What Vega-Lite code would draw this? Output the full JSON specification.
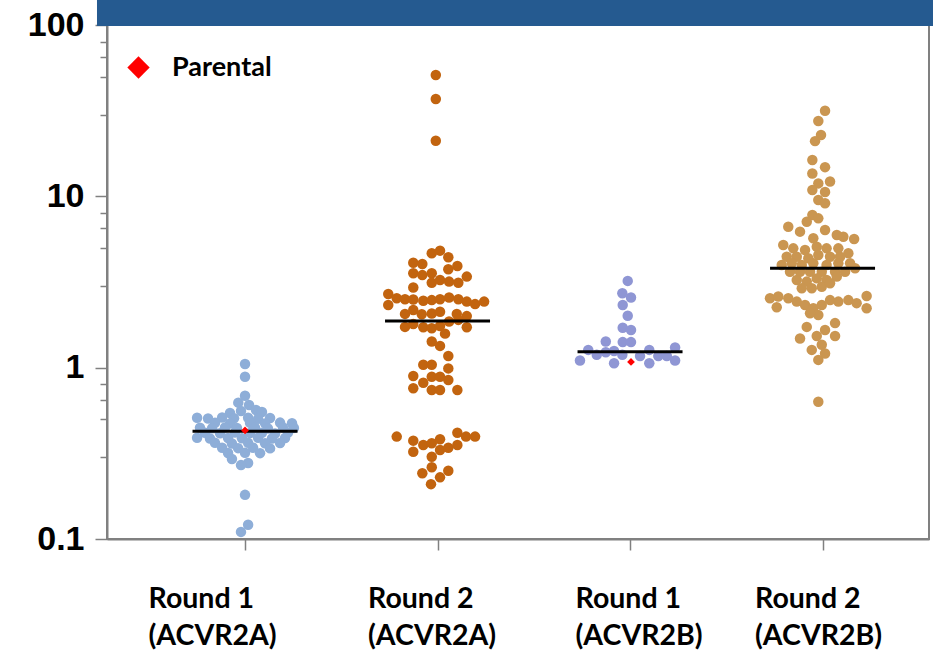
{
  "$schema": "https://vega.github.io/schema/vega-lite/v6.json",
  "width": 822,
  "height": 514,
  "autosize": "none",
  "padding": {"left": 107, "top": 25, "right": 4, "bottom": 122},
  "background": "white",
  "config": {
    "view": {"stroke": "#808080", "strokeWidth": 2},
    "axis": {"grid": false}
  },
  "datasets": {
    "pts": [
      {"g":"R1A","pos":1.0,"v":1.05},{"g":"R1A","pos":1.0,"v":0.885},{"g":"R1A","pos":1.0,"v":0.685},
      {"g":"R1A","pos":0.965,"v":0.625},{"g":"R1A","pos":1.021,"v":0.605},{"g":"R1A","pos":0.922,"v":0.544},
      {"g":"R1A","pos":0.979,"v":0.558},{"g":"R1A","pos":1.057,"v":0.566},{"g":"R1A","pos":1.088,"v":0.551},
      {"g":"R1A","pos":0.751,"v":0.51},{"g":"R1A","pos":0.808,"v":0.505},{"g":"R1A","pos":0.881,"v":0.512},{"g":"R1A","pos":0.943,"v":0.506},{"g":"R1A","pos":1.016,"v":0.51},{"g":"R1A","pos":1.068,"v":0.503},{"g":"R1A","pos":1.13,"v":0.508},
      {"g":"R1A","pos":0.844,"v":0.477},{"g":"R1A","pos":0.922,"v":0.472},{"g":"R1A","pos":1.026,"v":0.476},{"g":"R1A","pos":1.104,"v":0.473},{"g":"R1A","pos":1.182,"v":0.478},{"g":"R1A","pos":1.244,"v":0.474},
      {"g":"R1A","pos":0.766,"v":0.446},{"g":"R1A","pos":0.829,"v":0.443},{"g":"R1A","pos":0.896,"v":0.447},{"g":"R1A","pos":0.958,"v":0.444},{"g":"R1A","pos":1.052,"v":0.446},{"g":"R1A","pos":1.119,"v":0.442},{"g":"R1A","pos":1.197,"v":0.447},{"g":"R1A","pos":1.254,"v":0.445},
      {"g":"R1A","pos":0.792,"v":0.417},{"g":"R1A","pos":0.87,"v":0.414},{"g":"R1A","pos":0.948,"v":0.418},{"g":"R1A","pos":1.026,"v":0.415},{"g":"R1A","pos":1.088,"v":0.417},{"g":"R1A","pos":1.156,"v":0.413},{"g":"R1A","pos":1.223,"v":0.418},
      {"g":"R1A","pos":0.751,"v":0.39},{"g":"R1A","pos":0.818,"v":0.386},{"g":"R1A","pos":0.912,"v":0.389},{"g":"R1A","pos":0.984,"v":0.387},{"g":"R1A","pos":1.068,"v":0.39},{"g":"R1A","pos":1.14,"v":0.386},{"g":"R1A","pos":1.208,"v":0.389},
      {"g":"R1A","pos":0.844,"v":0.364},{"g":"R1A","pos":0.932,"v":0.361},{"g":"R1A","pos":1.016,"v":0.364},{"g":"R1A","pos":1.104,"v":0.362},{"g":"R1A","pos":1.182,"v":0.363},
      {"g":"R1A","pos":0.881,"v":0.341},{"g":"R1A","pos":0.964,"v":0.339},{"g":"R1A","pos":1.042,"v":0.341},{"g":"R1A","pos":1.13,"v":0.338},
      {"g":"R1A","pos":0.912,"v":0.318},{"g":"R1A","pos":1.0,"v":0.319},{"g":"R1A","pos":1.078,"v":0.317},
      {"g":"R1A","pos":0.932,"v":0.293},{"g":"R1A","pos":1.016,"v":0.278},{"g":"R1A","pos":0.979,"v":0.27},
      {"g":"R1A","pos":1.0,"v":0.181},{"g":"R1A","pos":1.016,"v":0.121},{"g":"R1A","pos":0.979,"v":0.11},

      {"g":"R2A","pos":1.991,"v":51.1},{"g":"R2A","pos":1.991,"v":37.0},{"g":"R2A","pos":1.991,"v":21.1},
      {"g":"R2A","pos":1.97,"v":4.65},{"g":"R2A","pos":2.013,"v":4.82},{"g":"R2A","pos":2.056,"v":4.41},{"g":"R2A","pos":1.874,"v":4.1},
      {"g":"R2A","pos":1.921,"v":4.03},{"g":"R2A","pos":2.103,"v":3.92},{"g":"R2A","pos":1.874,"v":3.56},{"g":"R2A","pos":1.921,"v":3.47},
      {"g":"R2A","pos":1.97,"v":3.56},{"g":"R2A","pos":2.056,"v":3.75},{"g":"R2A","pos":1.97,"v":3.13},{"g":"R2A","pos":2.013,"v":3.25},
      {"g":"R2A","pos":2.06,"v":3.18},{"g":"R2A","pos":2.108,"v":3.13},{"g":"R2A","pos":2.152,"v":3.4},{"g":"R2A","pos":1.874,"v":2.94},
      {"g":"R2A","pos":1.744,"v":2.69},{"g":"R2A","pos":1.744,"v":2.32},{"g":"R2A","pos":1.788,"v":2.54},{"g":"R2A","pos":1.831,"v":2.51},
      {"g":"R2A","pos":1.874,"v":2.5},{"g":"R2A","pos":1.926,"v":2.46},{"g":"R2A","pos":1.97,"v":2.48},{"g":"R2A","pos":2.013,"v":2.51},
      {"g":"R2A","pos":2.06,"v":2.57},{"g":"R2A","pos":2.108,"v":2.51},{"g":"R2A","pos":2.152,"v":2.43},{"g":"R2A","pos":2.195,"v":2.35},
      {"g":"R2A","pos":2.242,"v":2.43},
      {"g":"R2A","pos":1.831,"v":2.06},{"g":"R2A","pos":1.874,"v":2.17},{"g":"R2A","pos":1.918,"v":2.05},{"g":"R2A","pos":1.97,"v":2.07},
      {"g":"R2A","pos":2.013,"v":2.12},{"g":"R2A","pos":2.1,"v":2.06},{"g":"R2A","pos":2.152,"v":2.0},
      {"g":"R2A","pos":1.831,"v":1.73},{"g":"R2A","pos":1.874,"v":1.8},{"g":"R2A","pos":1.926,"v":1.72},{"g":"R2A","pos":1.97,"v":1.7},
      {"g":"R2A","pos":2.013,"v":1.75},{"g":"R2A","pos":2.06,"v":1.86},{"g":"R2A","pos":2.108,"v":1.9},{"g":"R2A","pos":2.152,"v":1.72},
      {"g":"R2A","pos":1.97,"v":1.42},{"g":"R2A","pos":2.013,"v":1.34},{"g":"R2A","pos":2.039,"v":1.58},
      {"g":"R2A","pos":2.056,"v":1.17},{"g":"R2A","pos":1.926,"v":1.04},{"g":"R2A","pos":1.97,"v":1.04},{"g":"R2A","pos":2.056,"v":0.99},
      {"g":"R2A","pos":1.874,"v":0.894},{"g":"R2A","pos":1.97,"v":0.886},{"g":"R2A","pos":2.013,"v":0.886},{"g":"R2A","pos":1.926,"v":0.817},
      {"g":"R2A","pos":2.056,"v":0.847},{"g":"R2A","pos":1.874,"v":0.758},{"g":"R2A","pos":1.97,"v":0.741},{"g":"R2A","pos":2.013,"v":0.741},
      {"g":"R2A","pos":2.103,"v":0.741},
      {"g":"R2A","pos":1.788,"v":0.396},{"g":"R2A","pos":1.874,"v":0.375},{"g":"R2A","pos":1.926,"v":0.354},{"g":"R2A","pos":1.97,"v":0.362},
      {"g":"R2A","pos":2.013,"v":0.382},{"g":"R2A","pos":2.103,"v":0.417},{"g":"R2A","pos":2.148,"v":0.396},{"g":"R2A","pos":2.195,"v":0.396},
      {"g":"R2A","pos":1.874,"v":0.323},{"g":"R2A","pos":2.013,"v":0.331},{"g":"R2A","pos":2.056,"v":0.341},{"g":"R2A","pos":2.103,"v":0.354},
      {"g":"R2A","pos":1.97,"v":0.302},{"g":"R2A","pos":1.97,"v":0.262},{"g":"R2A","pos":1.921,"v":0.242},{"g":"R2A","pos":2.056,"v":0.25},
      {"g":"R2A","pos":2.013,"v":0.229},{"g":"R2A","pos":1.966,"v":0.209},

      {"g":"R1B","pos":2.988,"v":3.21},{"g":"R1B","pos":2.96,"v":2.72},{"g":"R1B","pos":3.005,"v":2.57},{"g":"R1B","pos":2.962,"v":2.32},
      {"g":"R1B","pos":2.988,"v":2.01},{"g":"R1B","pos":2.962,"v":1.71},{"g":"R1B","pos":3.005,"v":1.66},{"g":"R1B","pos":2.874,"v":1.42},
      {"g":"R1B","pos":2.962,"v":1.41},{"g":"R1B","pos":3.005,"v":1.41},{"g":"R1B","pos":2.783,"v":1.27},{"g":"R1B","pos":2.827,"v":1.19},
      {"g":"R1B","pos":2.874,"v":1.23},{"g":"R1B","pos":2.917,"v":1.25},{"g":"R1B","pos":2.96,"v":1.19},{"g":"R1B","pos":3.052,"v":1.17},
      {"g":"R1B","pos":3.1,"v":1.27},{"g":"R1B","pos":3.147,"v":1.17},{"g":"R1B","pos":3.191,"v":1.17},{"g":"R1B","pos":3.234,"v":1.31},
      {"g":"R1B","pos":2.74,"v":1.1},{"g":"R1B","pos":2.917,"v":1.06},{"g":"R1B","pos":3.1,"v":1.06},{"g":"R1B","pos":3.234,"v":1.1},

      {"g":"R2B","pos":4.013,"v":31.6},{"g":"R2B","pos":3.978,"v":27.5},{"g":"R2B","pos":3.992,"v":22.8},{"g":"R2B","pos":3.961,"v":21.0},
      {"g":"R2B","pos":3.947,"v":16.3},{"g":"R2B","pos":4.013,"v":14.8},{"g":"R2B","pos":3.947,"v":13.6},{"g":"R2B","pos":3.978,"v":11.9},
      {"g":"R2B","pos":4.039,"v":12.2},{"g":"R2B","pos":3.947,"v":10.9},{"g":"R2B","pos":4.013,"v":10.6},{"g":"R2B","pos":3.978,"v":9.52},
      {"g":"R2B","pos":4.013,"v":9.11},{"g":"R2B","pos":3.947,"v":7.78},{"g":"R2B","pos":3.918,"v":7.11},{"g":"R2B","pos":3.978,"v":7.44},
      {"g":"R2B","pos":3.822,"v":6.65},{"g":"R2B","pos":4.013,"v":6.36},{"g":"R2B","pos":3.883,"v":6.22},{"g":"R2B","pos":4.074,"v":5.95},
      {"g":"R2B","pos":4.108,"v":5.81},{"g":"R2B","pos":4.164,"v":5.64},{"g":"R2B","pos":3.796,"v":5.2},{"g":"R2B","pos":3.952,"v":5.69},
      {"g":"R2B","pos":3.848,"v":4.97},{"g":"R2B","pos":3.909,"v":4.86},{"g":"R2B","pos":3.97,"v":5.08},{"g":"R2B","pos":4.021,"v":4.97},
      {"g":"R2B","pos":4.082,"v":4.97},{"g":"R2B","pos":4.134,"v":4.65},{"g":"R2B","pos":3.814,"v":4.44},{"g":"R2B","pos":3.866,"v":4.44},
      {"g":"R2B","pos":3.926,"v":4.35},{"g":"R2B","pos":3.978,"v":4.55},{"g":"R2B","pos":4.039,"v":4.44},{"g":"R2B","pos":4.091,"v":4.44},
      {"g":"R2B","pos":3.788,"v":3.97},{"g":"R2B","pos":3.84,"v":4.07},{"g":"R2B","pos":3.892,"v":3.97},{"g":"R2B","pos":3.952,"v":4.07},
      {"g":"R2B","pos":4.021,"v":3.97},{"g":"R2B","pos":4.082,"v":4.07},{"g":"R2B","pos":4.143,"v":4.07},{"g":"R2B","pos":4.169,"v":3.8},
      {"g":"R2B","pos":3.831,"v":3.63},{"g":"R2B","pos":3.883,"v":3.63},{"g":"R2B","pos":3.935,"v":3.63},{"g":"R2B","pos":3.996,"v":3.63},
      {"g":"R2B","pos":4.065,"v":3.63},{"g":"R2B","pos":4.117,"v":3.63},{"g":"R2B","pos":3.866,"v":3.25},{"g":"R2B","pos":3.918,"v":3.18},
      {"g":"R2B","pos":3.97,"v":3.32},{"g":"R2B","pos":4.021,"v":3.25},{"g":"R2B","pos":4.074,"v":3.4},{"g":"R2B","pos":3.892,"v":2.91},
      {"g":"R2B","pos":3.944,"v":2.91},{"g":"R2B","pos":3.996,"v":2.97},{"g":"R2B","pos":4.039,"v":3.11},
      {"g":"R2B","pos":3.727,"v":2.54},{"g":"R2B","pos":3.77,"v":2.6},{"g":"R2B","pos":3.762,"v":2.25},{"g":"R2B","pos":3.822,"v":2.54},
      {"g":"R2B","pos":3.866,"v":2.43},{"g":"R2B","pos":3.909,"v":2.32},{"g":"R2B","pos":3.952,"v":2.22},{"g":"R2B","pos":3.996,"v":2.32},
      {"g":"R2B","pos":4.039,"v":2.48},{"g":"R2B","pos":4.082,"v":2.43},{"g":"R2B","pos":4.134,"v":2.48},{"g":"R2B","pos":4.177,"v":2.38},
      {"g":"R2B","pos":4.229,"v":2.62},{"g":"R2B","pos":4.229,"v":2.22},{"g":"R2B","pos":3.978,"v":2.03},{"g":"R2B","pos":3.935,"v":2.08},
      {"g":"R2B","pos":4.065,"v":1.82},{"g":"R2B","pos":3.918,"v":1.73},{"g":"R2B","pos":4.013,"v":1.66},{"g":"R2B","pos":3.883,"v":1.48},
      {"g":"R2B","pos":3.97,"v":1.53},{"g":"R2B","pos":4.065,"v":1.53},{"g":"R2B","pos":3.996,"v":1.36},{"g":"R2B","pos":3.944,"v":1.27},
      {"g":"R2B","pos":4.013,"v":1.21},{"g":"R2B","pos":3.978,"v":1.11},{"g":"R2B","pos":3.978,"v":0.633}
    ],
    "medians": [
      {"g":"R1A","pos":1,"v":0.425},
      {"g":"R2A","pos":2,"v":1.87},
      {"g":"R1B","pos":3,"v":1.24},
      {"g":"R2B","pos":4,"v":3.8}
    ],
    "parental": [
      {"g":"R1A","pos":1.0,"v":0.43,"type":"Parental"},
      {"g":"R1B","pos":3.005,"v":1.08,"type":"Parental"}
    ],
    "banner": [{"x0":0.231,"x1":4.6,"y0":98.7,"y1":1000}]
  },
  "layer": [
    {
      "data": {"name": "pts"},
      "mark": {"type": "circle", "size": 110, "opacity": 1},
      "encoding": {
        "x": {
          "field": "pos", "type": "quantitative",
          "scale": {"domain": [0.283, 4.553], "nice": false, "zero": false},
          "axis": {
            "values": [1, 2, 3, 4],
            "title": null,
            "labelExpr": "datum.value == 1 ? ['Round 1', '(ACVR2A)'] : datum.value == 2 ? ['Round 2', '(ACVR2A)'] : datum.value == 3 ? ['Round 1', '(ACVR2B)'] : ['Round 2', '(ACVR2B)']",
            "labelAlign": "left",
            "labelOffset": {"condition": [{"test": "datum.value == 1", "value": -97}, {"test": "datum.value == 2", "value": -70}, {"test": "datum.value == 3", "value": -55}], "value": -68},
            "labelFont": "Lato", "labelFontWeight": "bold", "labelFontSize": 28.5, "labelColor": "black",
            "labelPadding": 34, "labelLineHeight": 37, "labelOverlap": false, "labelBound": false, "labelFlush": false,
            "domainColor": "#808080", "domainWidth": 2, "tickColor": "#808080", "tickWidth": 1.5, "tickSize": 11
          }
        },
        "y": {
          "field": "v", "type": "quantitative",
          "scale": {"type": "log", "domain": [0.1, 100], "nice": false},
          "axis": {
            "values": [0.1, 0.3, 0.5, 0.65, 0.8, 1, 3, 5, 6.5, 8, 10, 30, 50, 65, 80, 100],
            "title": null,
            "labelExpr": "datum.value == 0.1 ? '0.1' : datum.value == 1 ? '1' : datum.value == 10 ? '10' : datum.value == 100 ? '100' : ''",
            "labelFont": "Liberation Sans", "labelFontWeight": "bold", "labelFontSize": 34, "labelColor": "black",
            "labelPadding": 11, "labelOverlap": false, "labelBound": false, "labelFlush": false,
            "domainColor": "#808080", "domainWidth": 2, "tickColor": "#808080", "tickWidth": 1.5,
            "tickSize": {"condition": {"test": "datum.value == 0.1 || datum.value == 1 || datum.value == 10 || datum.value == 100", "value": 12}, "value": 7}
          }
        },
        "color": {
          "field": "g", "type": "nominal", "legend": null,
          "scale": {"domain": ["R1A", "R2A", "R1B", "R2B"], "range": ["#8eaed8", "#c2640f", "#8f96d4", "#ca9651"]}
        }
      }
    },
    {
      "data": {"name": "medians"},
      "mark": {"type": "tick", "orient": "horizontal", "size": 105, "thickness": 3, "color": "black", "opacity": 1},
      "encoding": {
        "x": {"field": "pos", "type": "quantitative"},
        "y": {"field": "v", "type": "quantitative"}
      }
    },
    {
      "data": {"name": "parental"},
      "mark": {"type": "point", "filled": true, "color": "#ff0000", "opacity": 1, "size": 60, "strokeWidth": 0},
      "encoding": {
        "x": {"field": "pos", "type": "quantitative"},
        "y": {"field": "v", "type": "quantitative"},
        "shape": {
          "field": "type", "type": "nominal",
          "scale": {"range": ["diamond"]},
          "legend": {
            "title": null, "orient": "none", "legendX": 18, "legendY": 29, "padding": 0,
            "symbolSize": 500, "symbolFillColor": "#ff0000", "symbolStrokeColor": "#ff0000", "symbolStrokeWidth": 0,
            "labelFont": "Lato", "labelFontWeight": "bold", "labelFontSize": 27, "labelColor": "black", "labelOffset": 20
          }
        }
      }
    },
    {
      "data": {"name": "banner"},
      "mark": {"type": "rect", "color": "#255a90", "opacity": 1},
      "encoding": {
        "x": {"field": "x0", "type": "quantitative"},
        "x2": {"field": "x1"},
        "y": {"field": "y0", "type": "quantitative"},
        "y2": {"field": "y1"}
      }
    }
  ]
}
